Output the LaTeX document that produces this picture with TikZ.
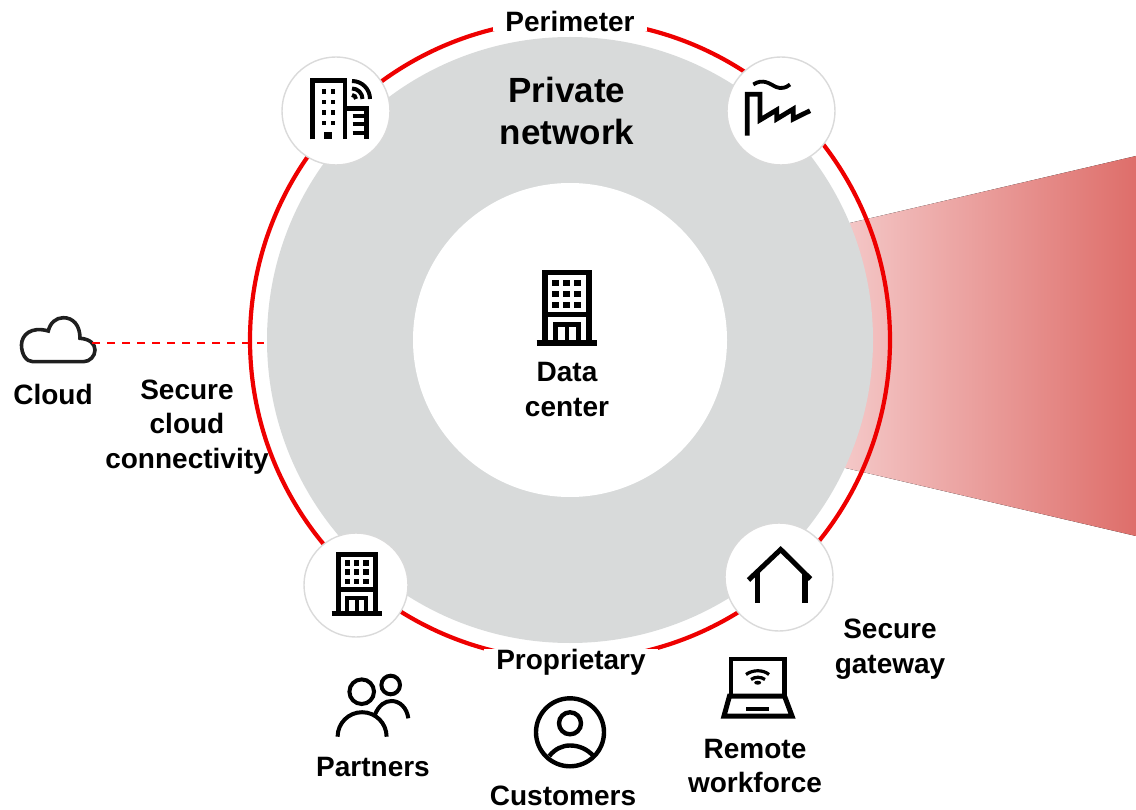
\documentclass[tikz,border=0pt]{standalone}
\usepackage{fontspec}
\setmainfont{Liberation Sans}
\usepackage{tikz}

\definecolor{ringred}{HTML}{EE0000}
\definecolor{netgray}{HTML}{D8DADA}
\definecolor{hubline}{HTML}{DADADA}
\definecolor{wedgelight}{HTML}{F6CFCF}
\definecolor{wedgemid}{HTML}{EDB0B0}
\definecolor{wedgedark}{HTML}{DE6E6A}

\tikzset{
  hub/.style={circle,draw=hubline,line width=1.4pt,fill=white,inner sep=0pt,minimum size=#1},
  caption/.style={font=\bfseries\fontsize{28}{34.5}\selectfont,align=center,inner sep=0pt,text=black},
  gaplabel/.style={caption,fill=white,inner xsep=12pt},
  icon/.style={draw=black,line width=4.8pt,line join=miter,fill=none}
}

\newcommand{\officeicon}[3]{
  \begin{scope}[shift={(#1,#2)},scale=#3]
    \draw[icon,line width=#3*5.6pt] (-22,35) -- (-22,-35.5) -- (22,-35.5) -- (22,35);
    \draw[icon,line width=#3*5.6pt] (-22,6.5) -- (22,6.5);
    \draw[icon,line width=#3*5.6pt] (-30,35) -- (30,35);
    \draw[icon,line width=#3*5pt] (-11.5,35) -- (-11.5,17) -- (11.5,17) -- (11.5,35);
    \draw[icon,line width=#3*4.4pt] (0,17) -- (0,35);
    \foreach \wx in {-11,0,11}
      \foreach \wy in {-25,-14,-3}
        \fill[black] (\wx-3.3,\wy-3.3) rectangle (\wx+3.3,\wy+3.3);
  \end{scope}
}

\begin{document}
\begin{tikzpicture}[x=1pt,y=-1pt]
  \useasboundingbox (0,0) rectangle (1136,810);

  \fill[left color=wedgelight,middle color=wedgemid,right color=wedgedark] (820,230) -- (1136,156) -- (1136,536) -- (820,462) -- cycle;

  \node[circle,fill=netgray,inner sep=0pt,minimum size=606pt] (privatenet) at (570,340) {};
  \node[circle,fill=white,inner sep=0pt,minimum size=314pt] (datacenter) at (570,340) {};
  \draw[ringred,line width=4.2pt] (privatenet.center) circle (320);

  \node[hub=108pt] (branch) at (336,111) {};
  \node[hub=108pt] (factory) at (781,111) {};
  \node[hub=104pt] (partnerhub) at (356,585) {};
  \node[hub=108pt] (home) at (779,577) {};

  \node[gaplabel] (perimeter) at (570,21) {Perimeter};
  \node[gaplabel] (proprietary) at (571,662) {Proprietary};
  \node[caption,font=\bfseries\fontsize{35}{42}\selectfont] (privatelabel) at (567,111) {Private\\network};
  \node[caption] (datalabel) at (567,389.5) {Data\\center};
  \node[caption] (cloudlabel) at (53,394) {Cloud};
  \node[caption] (securelabel) at (187,427) {Secure\\cloud\\connectivity};
  \node[caption] (gatewaylabel) at (890,649) {Secure\\gateway};
  \node[caption] (partnerlabel) at (373,767) {Partners};
  \node[caption,align=none,anchor=base] (customerlabel) at (563,805) {Customers};
  \node[caption] (remotelabel) at (755,766) {Remote\\workforce};

  \officeicon{566.7}{308}{1}
  \officeicon{356.7}{584}{0.84}

  % branch office
  \draw[icon] (312.2,139.5) -- (312.2,80.6) -- (345,80.6) -- (345,139.5);
  \draw[icon] (345,108.5) -- (366.7,108.5) -- (366.7,139.5);
  \foreach \wx in {324,332.7}
    \foreach \wy in {91.7,102.3,112.7,123.3}
      \fill[black] (\wx-2.2,\wy-2.2) rectangle (\wx+2.2,\wy+2.2);
  \fill[black] (324.3,131.7) rectangle (332.3,139.5);
  \foreach \ly in {116,124.3,133.3}
    \draw[icon,line width=3.8pt] (352.7,\ly) -- (364,\ly);
  \draw[icon,line width=4pt] (352,81) arc (270:360:18);
  \draw[icon,line width=4pt] (352,88.5) arc (270:360:10.5);
  \draw[icon,line width=4pt] (352,95) arc (270:360:4);

  % factory
  \draw[icon] (747.3,135.7) -- (747.3,94.3) -- (760,94.3) -- (760,120) -- (776.7,110) -- (776.7,119) -- (793.3,109) -- (793.3,119) -- (810,110.7);
  \draw[icon,line width=3.8pt] (753.3,84.5) .. controls (763,78) and (770,84) .. (776,87) .. controls (781,89) and (786,88) .. (790,84.5);

  % home
  \draw[icon,line width=5pt] (748.5,580) -- (780.7,549.5) -- (810.5,579);
  \draw[icon,line width=5.4pt] (757.5,573) -- (757.5,602.5);
  \draw[icon,line width=5.4pt] (805,573) -- (805,602.5);

  % partners
  \draw[icon,line width=4pt] (361.7,691.7) circle (12.3);
  \draw[icon,line width=4pt] (390.7,685) circle (9.3);
  \draw[icon,line width=4pt] (337.6,736.7) arc (180:360:24.5);
  \draw[icon,line width=4pt] (375,714.5) .. controls (379,705) and (385,701) .. (391.5,701) .. controls (400,701) and (407,708) .. (408.3,718.3);

  % customer
  \draw[icon,line width=4.4pt] (570,732.3) circle (34);
  \draw[icon,line width=4.4pt] (570,723.3) circle (11);
  \draw[icon,line width=4.4pt] (549.3,756) .. controls (555,749) and (562,745.5) .. (570,745.5) .. controls (579,745.5) and (587,749) .. (593.5,756);

  % laptop
  \draw[icon] (731,695.7) -- (731,659) -- (784.5,659) -- (784.5,695.7);
  \draw[icon,line width=5pt] (729.5,696) -- (784.5,696) -- (792,716) -- (724,716) -- cycle;
  \fill[black] (746,706.5) rectangle (769.3,711);
  \draw[icon,line width=3.2pt] (746,674.5) .. controls (753,669.5) and (763,669.5) .. (769,674.5);
  \draw[icon,line width=3.2pt] (751,679.5) .. controls (755,676.5) and (761,676.5) .. (765,679.5);
  \fill[black] (757.7,682.7) ellipse (3.5 and 2);

  % cloud
  \draw[draw=black!88,line width=3.6pt,fill=none] (33,361.7) .. controls (26,361.7) and (21.5,354) .. (21.5,345) .. controls (21.5,335) and (31,326) .. (48.3,331) .. controls (50,323) and (56,317.7) .. (63.3,317.7) .. controls (73,317.7) and (80,325) .. (80,338.3) .. controls (90,339) and (95,344) .. (95,350) .. controls (95,356) and (90,361.7) .. (83.3,361.7) -- cycle;

  \coordinate (cloudport) at (92,343.5);
  \coordinate (ringport) at (264,343.5);
  \draw[red,line width=2pt,dash pattern=on 8pt off 7pt] (cloudport) -- (ringport);
\end{tikzpicture}
\end{document}
